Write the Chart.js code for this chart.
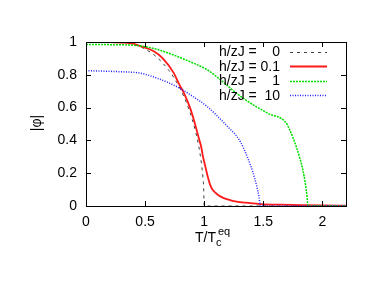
<!DOCTYPE html>
<html>
<head>
<meta charset="utf-8">
<script src="https://cdn.jsdelivr.net/npm/chart.js@4/dist/chart.umd.min.js"></script>
<style>
  html, body { margin: 0; padding: 0; background: #fff; }
  canvas { display: block; }
</style>
</head>
<body>
<canvas id="chart" width="382" height="295"></canvas>
<script>
// values (T / Tc^eq  vs  |phi|)
const xTicks = [0, 0.5, 1, 1.5, 2];
const yTicks = [0, 0.2, 0.4, 0.6, 0.8, 1];

const fieldLabels = ["0", "0.1", "1", "10"];

const t0 = [0, 0.2, 0.3, 0.4, 0.5, 0.6, 0.7, 0.75, 0.8, 0.85, 0.9, 0.93, 0.95, 0.97, 0.98, 0.99, 0.995, 1.0, 2.2];
const phi0 = [1, 1, 0.997, 0.986, 0.957, 0.907, 0.828, 0.775, 0.71, 0.63, 0.525, 0.445, 0.38, 0.295, 0.24, 0.17, 0.12, 0, 0];

const t01 = [0, 0.2, 0.3, 0.4, 0.46, 0.57, 0.65, 0.743, 0.79, 0.83, 0.88, 0.913, 0.956, 0.975, 0.99, 1.01, 1.03, 1.05, 1.07, 1.1, 1.14, 1.2, 1.25, 1.35, 1.48, 1.65, 1.82, 2.0, 2.2];
const phi01 = [1, 1, 0.997, 0.99, 0.975, 0.945, 0.9, 0.81, 0.74, 0.687, 0.6, 0.524, 0.41, 0.36, 0.3, 0.24, 0.18, 0.13, 0.1, 0.078, 0.057, 0.04, 0.03, 0.02, 0.012, 0.008, 0.005, 0.003, 0.002];

const t1 = [0, 0.2, 0.46, 0.6, 0.743, 0.88, 1.027, 1.14, 1.31, 1.54, 1.69, 1.72, 1.75, 1.78, 1.81, 1.835, 1.855, 1.87, 1.878, 2.2];
const phi1 = [0.985, 0.984, 0.976, 0.955, 0.92, 0.88, 0.83, 0.768, 0.667, 0.565, 0.51, 0.47, 0.42, 0.36, 0.29, 0.22, 0.14, 0.06, 0, 0];

const t10 = [0, 0.28, 0.46, 0.6, 0.77, 0.9, 1.027, 1.2, 1.3, 1.37, 1.41, 1.445, 1.465, 1.475, 2.2];
const phi10 = [0.825, 0.819, 0.81, 0.78, 0.727, 0.67, 0.605, 0.483, 0.4, 0.29, 0.21, 0.12, 0.05, 0, 0];

const FONT = '"Liberation Sans", Arial, sans-serif';

function pts(xs, ys) {
  return xs.map((x, i) => ({ x: x, y: ys[i] }));
}

const series = [
  { data: pts(t0, phi0), color: "#404040", width: 1, dash: [3, 4] },
  { data: pts(t01, phi01), color: "#ff1a1a", width: 1.8, dash: [] },
  { data: pts(t1, phi1), color: "#00dd00", width: 1.5, dash: [2, 1] },
  { data: pts(t10, phi10), color: "#2222ff", width: 1.5, dash: [1, 1.5] },
];

// gnuplot-like frame, inward ticks, key and axis titles
const framePlugin = {
  id: "frame",
  afterDatasetsDraw(chart) {
    const ctx = chart.ctx;
    const a = chart.chartArea;
    const xs = chart.scales.x;
    const ys = chart.scales.y;
    ctx.save();
    ctx.strokeStyle = "#000";
    ctx.lineWidth = 1;
    ctx.setLineDash([]);
    ctx.strokeRect(Math.round(a.left) + 0.5, Math.round(a.top) + 0.5,
      Math.round(a.right - a.left), Math.round(a.bottom - a.top));
    ctx.beginPath();
    xTicks.forEach((v) => {
      const px = Math.round(xs.getPixelForValue(v)) + 0.5;
      ctx.moveTo(px, a.bottom); ctx.lineTo(px, a.bottom - 5);
      ctx.moveTo(px, a.top); ctx.lineTo(px, a.top + 5);
    });
    yTicks.forEach((v) => {
      const py = Math.round(ys.getPixelForValue(v)) + 0.5;
      ctx.moveTo(a.left, py); ctx.lineTo(a.left + 5, py);
      ctx.moveTo(a.right, py); ctx.lineTo(a.right - 5, py);
    });
    ctx.stroke();

    // key
    ctx.fillStyle = "#000";
    ctx.font = "14px " + FONT;
    ctx.textBaseline = "middle";
    chart.data.datasets.forEach((ds, i) => {
      const y = 51.5 + i * 14.5;
      ctx.textAlign = "left";
      ctx.fillText("h/zJ =", 219, y + 1);
      ctx.textAlign = "right";
      ctx.fillText(fieldLabels[i], 280, y + 1);
      ctx.beginPath();
      ctx.strokeStyle = ds.borderColor;
      ctx.lineWidth = ds.borderWidth;
      ctx.setLineDash(ds.borderDash);
      ctx.moveTo(290, Math.round(y) + 0.5);
      ctx.lineTo(327, Math.round(y) + 0.5);
      ctx.stroke();
    });
    ctx.setLineDash([]);

    // x title: T/Tc^eq
    ctx.textAlign = "left";
    ctx.textBaseline = "alphabetic";
    ctx.font = "14px " + FONT;
    ctx.fillText("T/T", 195, 242);
    const w = ctx.measureText("T/T").width;
    ctx.font = "11px " + FONT;
    ctx.fillText("c", 195 + w, 246);
    ctx.fillText("eq", 195 + w + 2, 235);

    // y title
    ctx.font = "14px " + FONT;
    ctx.translate(37, 123);
    ctx.rotate(-Math.PI / 2);
    ctx.textAlign = "center";
    ctx.textBaseline = "middle";
    ctx.fillText("|φ|", 0, 0);
    ctx.restore();
  },
};

new Chart(document.getElementById("chart"), {
  type: "line",
  data: {
    datasets: series.map((s, i) => ({
      label: "h/zJ = " + fieldLabels[i],
      data: s.data,
      borderColor: s.color,
      borderWidth: s.width,
      borderDash: s.dash,
      pointRadius: 0,
      fill: false,
      cubicInterpolationMode: "monotone",
      order: series.length - i,
    })),
  },
  options: {
    responsive: false,
    animation: false,
    devicePixelRatio: 1,
    layout: { padding: { left: 0, top: 42, right: 36, bottom: 0 } },
    plugins: { legend: { display: false }, tooltip: { enabled: false } },
    scales: {
      x: {
        type: "linear",
        min: 0,
        max: 2.2,
        afterBuildTicks: (scale) => { scale.ticks = xTicks.map((v) => ({ value: v })); },
        afterFit: (scale) => { scale.height = 89; },
        grid: { drawOnChartArea: false, drawTicks: false },
        border: { display: false },
        ticks: { color: "#000", font: { family: FONT, size: 14 }, padding: 8, maxRotation: 0, callback: (v) => String(v) },
      },
      y: {
        type: "linear",
        min: 0,
        max: 1,
        afterBuildTicks: (scale) => { scale.ticks = yTicks.map((v) => ({ value: v })); },
        afterFit: (scale) => { scale.width = 86; },
        grid: { drawOnChartArea: false, drawTicks: false },
        border: { display: false },
        ticks: { color: "#000", font: { family: FONT, size: 14 }, padding: 9, callback: (v) => String(v) },
      },
    },
  },
  plugins: [framePlugin],
});
</script>
</body>
</html>
